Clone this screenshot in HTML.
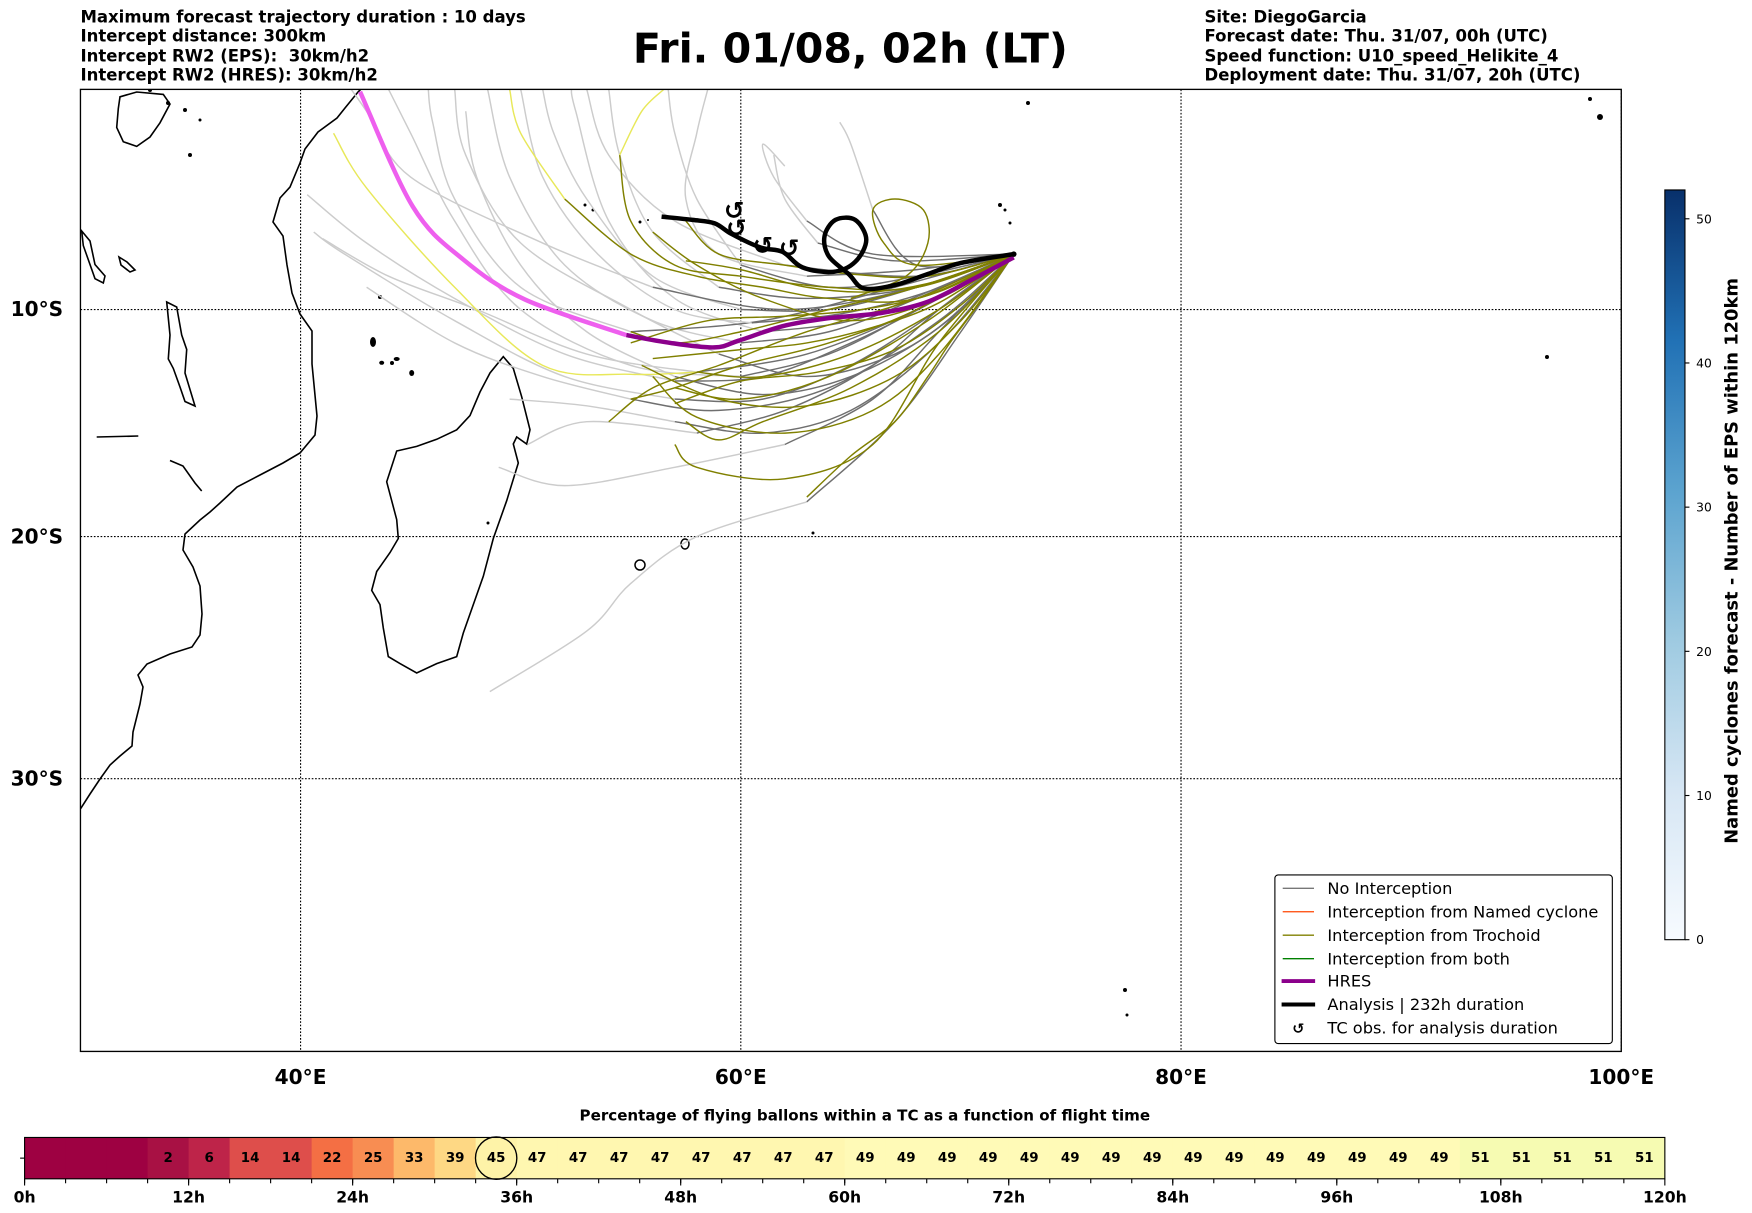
<!DOCTYPE html>
<html><head><meta charset="utf-8">
<style>
html,body{margin:0;padding:0;background:#fff;}
svg{display:block;font-family:"DejaVu Sans","Liberation Sans",sans-serif;}
</style></head>
<body>
<svg id="chart" width="1752" height="1213" viewBox="0 0 1568 1085.6" xmlns="http://www.w3.org/2000/svg">
<defs>
<linearGradient id="cbgrad" x1="0" y1="1" x2="0" y2="0">
<stop offset="0" stop-color="#f7fbff"/><stop offset="0.2" stop-color="#d6e6f4"/><stop offset="0.4" stop-color="#9ecae1"/><stop offset="0.6" stop-color="#5ba3cf"/><stop offset="0.8" stop-color="#2171b5"/><stop offset="1" stop-color="#08306b"/>
</linearGradient>
<clipPath id="mapclip"><rect x="72" y="80" width="1379" height="861"/></clipPath>
</defs>

<g font-size="14.8" font-weight="bold">
<text x="72" y="20">Maximum forecast trajectory duration : 10 days</text>
<text x="72" y="37">Intercept distance: 300km</text>
<text x="72" y="55" xml:space="preserve">Intercept RW2 (EPS):  30km/h2</text>
<text x="72" y="72">Intercept RW2 (HRES): 30km/h2</text>
</g>
<text x="761" y="56" text-anchor="middle" font-size="36.8" font-weight="bold">Fri. 01/08, 02h (LT)</text>
<g font-size="14.8" font-weight="bold">
<text x="1078" y="20">Site: DiegoGarcia</text>
<text x="1078" y="37">Forecast date: Thu. 31/07, 00h (UTC)</text>
<text x="1078" y="55">Speed function: U10_speed_Helikite_4</text>
<text x="1078" y="72">Deployment date: Thu. 31/07, 20h (UTC)</text>
</g>

<g id="map" clip-path="url(#mapclip)">
<g id="coast" transform="scale(0.89497)" fill="none" stroke="#000" stroke-width="1.6">
<polyline points="362,88 358,92 345,108 337,118 318,132 305,149 300,163 290,187 280,198 273,222 283,236 287,265 292,293 300,314 312,331 312,364 317,416 315,435 300,453 283,463 260,475 237,487 220,503 210,512 200,520 185,534 183,550 193,567 200,586 202,614 200,635 192,647 170,654 147,664 138,675 143,687 140,704 133,732 132,746 120,756 110,765 100,779 90,794 81,808 78,812"/>
<polygon points="503.3,356.6 513.3,368.4 521.7,396.8 530,429.8 526.7,444 516.7,437 513.3,444 518.3,463 506.7,500.7 493.3,538.5 483.3,576.3 473.3,604.6 463.3,633 456.7,656.6 436.7,663.6 416.7,673 400,663.6 388.3,656.6 383.3,628 380,604.6 371.7,590.4 376.7,571.5 390,552.6 398.3,538.5 396.7,519.6 391.7,500.7 386.7,481.8 396.7,451 416.7,446.4 436.7,439.3 456.7,429.8 470,415.6 480,392 490,373"/>
<polygon points="166.7,302 176.7,307 181.7,335 186.7,349.5 185,373 195,406 185,401.5 180,387 173.3,368.4 168.3,359 170,335"/>
<polygon points="81.7,231 90,241 95,264.5 105,276 103.3,283 95,278.7 90,264.5 83.3,245.6"/>
<polygon points="120,96.8 136.7,92 163.3,94.4 170,104 160,122.8 150,137 136.7,146.4 123.3,141.7 116.7,127.5 118.3,108.6"/>
<polyline points="96.7,437 138.3,436"/>
<polyline points="170,460.5 183,466 195,483 201.7,491"/>
<polygon points="119,257 127,262 135,270 130,272 121,265"/>
<g fill="#000" stroke="none">
<ellipse cx="373" cy="342" rx="3" ry="5"/><ellipse cx="381.7" cy="362.8" rx="2.5" ry="2"/><ellipse cx="396.7" cy="359" rx="3" ry="2"/><ellipse cx="411.7" cy="373" rx="2.5" ry="3"/>
<ellipse cx="640" cy="565" rx="5" ry="5" fill="none" stroke="#000" stroke-width="1.5"/><ellipse cx="685" cy="544" rx="4" ry="5" fill="none" stroke="#000" stroke-width="1.5"/>
<circle cx="813" cy="533" r="1.5"/><circle cx="1547" cy="357" r="2"/><circle cx="1000" cy="205" r="2"/><circle cx="1005" cy="210" r="1.5"/><circle cx="1010" cy="223" r="1.5"/>
<circle cx="1028" cy="103" r="2"/><circle cx="1590" cy="99" r="2"/><circle cx="1600" cy="117" r="3"/><circle cx="585" cy="205" r="1.5"/><circle cx="593" cy="210" r="1.5"/>
<circle cx="380" cy="297" r="2"/><circle cx="392" cy="363" r="2"/><circle cx="1125" cy="990" r="2"/><circle cx="1127" cy="1015" r="1.5"/>
<circle cx="640" cy="222" r="1.5"/><circle cx="648" cy="220" r="1"/><circle cx="488" cy="523" r="1.5"/>
<circle cx="150" cy="90" r="2"/><circle cx="168" cy="103" r="2"/><circle cx="185" cy="110" r="2"/><circle cx="200" cy="120" r="1.5"/><circle cx="190" cy="155" r="2"/>
</g>
</g>
<g id="grid" stroke="#000" stroke-width="1" stroke-dasharray="1.5,1.5"></g>
<g id="tracks" fill="none"></g>
</g>
<rect x="72" y="80" width="1379" height="861" fill="none" stroke="#000" stroke-width="1.2"/>
<g id="axislabels" font-size="18" font-weight="bold"></g>

<g>
<rect x="1141" y="783" width="302" height="151" rx="3" fill="#fff" stroke="#000" stroke-width="1"/>
<g font-size="14.5">
<line x1="1148" y1="795" x2="1176" y2="795" stroke="#777" stroke-width="1.2"/><text x="1188" y="800">No Interception</text>
<line x1="1148" y1="816" x2="1176" y2="816" stroke="#ff4500" stroke-width="1.2"/><text x="1188" y="821">Interception from Named cyclone</text>
<line x1="1148" y1="837" x2="1176" y2="837" stroke="#808000" stroke-width="1.2"/><text x="1188" y="842">Interception from Trochoid</text>
<line x1="1148" y1="858" x2="1176" y2="858" stroke="#008000" stroke-width="1.2"/><text x="1188" y="863">Interception from both</text>
<line x1="1147" y1="878" x2="1177" y2="878" stroke="#8b008b" stroke-width="3.5"/><text x="1188" y="883">HRES</text>
<line x1="1147" y1="899" x2="1177" y2="899" stroke="#000" stroke-width="3.5"/><text x="1188" y="904">Analysis | 232h duration</text>
<text x="1162" y="925" font-size="13" font-weight="bold" text-anchor="middle">↺</text><text x="1188" y="925">TC obs. for analysis duration</text>
</g>
</g>

<g>
<rect x="1490" y="170" width="18" height="671" fill="url(#cbgrad)" stroke="#000" stroke-width="1"/>
<g id="cbticks" font-size="11"></g>
<text transform="translate(1555,502) rotate(-90)" text-anchor="middle" font-size="16" font-weight="bold">Named cyclones forecast - Number of EPS within 120km</text>
</g>

<text x="774" y="1003" text-anchor="middle" font-size="13.5" font-weight="bold">Percentage of flying ballons within a TC as a function of flight time</text>
<g id="timebar"></g>
</svg>

<script>
// ---- time bar data ----
const timeHours = [0,3,6,9,12,15,18,21,24,27,30,33,36,39,42,45,48,51,54,57,60,63,66,69,72,75,78,81,84,87,90,93,96,99,102,105,108,111,114,117];
const timePct = [0,0,0,2,6,14,14,22,25,33,39,45,47,47,47,47,47,47,47,47,49,49,49,49,49,49,49,49,49,49,49,49,49,49,49,51,51,51,51,51];
const timeShowLabel = [0,0,0,1,1,1,1,1,1,1,1,1,1,1,1,1,1,1,1,1,1,1,1,1,1,1,1,1,1,1,1,1,1,1,1,1,1,1,1,1];
const timeTickLabels = ["0h","12h","24h","36h","48h","60h","72h","84h","96h","108h","120h"];
const currentCellIndex = 11;
// ---- colorbar ----
const cbTicks = [0,10,20,30,40,50];
const cbMax = 52;
// ---- map ticks ----
const lonTicks = [40,60,80,100];
const latTicks = [-10,-20,-30];
// ---- HRES ----
const hresLon = [42.7,45.1,47.4,50.2,54.8,56.8,58.8,59.9,61.9,63.9,66.4,68.5,70.5,72.4];
const hresLat = [-0.1,-5.35,-7.75,-9.55,-11.15,-11.5,-11.7,-11.4,-10.75,-10.4,-10.15,-9.65,-8.65,-7.65];
const hresSplit = 4;
// ---- Analysis ----
const anaLon = [56.4,57.8,58.8,59.6,60.9,61.9,62.8,64.2,65.2,65.7,65.2,64.3,63.8,64.0,64.9,65.6,67.0,68.5,70.0,72.4];
const anaLat = [-5.8,-5.95,-6.1,-6.6,-7.2,-7.4,-8.1,-8.3,-7.85,-6.85,-5.95,-5.95,-6.7,-7.6,-8.4,-9.05,-8.9,-8.4,-7.9,-7.5];
const tcObsLon = [59.7,59.8,61.0,62.2];
const tcObsLat = [-5.5,-6.3,-7.1,-7.2];
// ---- ensemble: no interception (grey) ----
const greyTracks = [
 [[72.4,-7.5],[69,-9.5],[65,-11.5],[61,-13],[57,-13.2],[52,-12],[47,-9.5],[43,-7],[40.3,-4.8]],
 [[72.4,-7.5],[69,-10],[65,-12.5],[61,-14],[57,-14],[52,-13],[47,-10.5],[42,-7.5],[40.6,-6.5]],
 [[72.4,-7.5],[68,-10],[64,-12],[60,-13],[55,-12.5],[50,-10],[47,-6],[45,-2],[44,0]],
 [[72.4,-7.5],[68,-9.5],[64,-11],[60,-11.5],[56,-10.5],[52,-8],[49.5,-4],[48.5,0]],
 [[72.4,-7.5],[68,-9],[64,-10],[60,-10],[56,-8.5],[53,-5],[51.5,-2],[51,0]],
 [[72.4,-7.5],[68,-9],[63,-9.5],[59,-9],[56,-6.5],[54.5,-3],[54,0]],
 [[72.4,-7.5],[68,-8.5],[64,-9],[60,-8],[58,-5],[57,-2],[56.7,0]],
 [[72.4,-7.5],[69,-9],[65,-10.5],[61,-11],[57,-9.5],[54,-6],[52.5,-1],[52.3,0]],
 [[72.4,-7.5],[69,-10],[66,-12.5],[62,-14.5],[58,-15.5],[53,-15],[50.3,-16]],
 [[72.4,-7.5],[69,-11],[66,-14],[62,-16],[57,-17],[52,-17.8],[49,-17]],
 [[72.4,-7.5],[70,-11],[67,-15],[63,-18.5],[58,-20],[55,-22],[53,-24],[48.6,-26.5]],
 [[72.4,-7.5],[66,-7.5],[63,-6],[61.5,-4],[61,-2.5],[62,-3.5]],
 [[72.4,-7.5],[68,-8],[66,-5.5],[65,-2.5],[64.5,-1.5]],
 [[72.4,-7.5],[68,-9],[62,-10],[56,-9],[51,-7],[45,-4],[43,-1],[42.3,0]],
 [[72.4,-7.5],[67,-9],[61,-10.5],[55,-11],[50,-9],[47,-5],[46,-1.5],[45.8,0]],
 [[72.4,-7.5],[68,-10],[63,-12],[58,-12.8],[53,-12],[48,-10],[44,-8.5],[41,-6.8]],
 [[72.4,-7.5],[69,-10.5],[64,-13.5],[59,-14.5],[55,-14],[51,-13],[47,-11.5],[43,-9]],
 [[72.4,-7.5],[69,-11.5],[65,-14.5],[61,-15.5],[57,-15],[53,-14.3],[49.5,-14]],
 [[72.4,-7.5],[68,-8.5],[62,-8],[57,-6],[54,-3],[53,0]],
 [[72.4,-7.5],[70,-10],[67,-12],[63,-13],[59,-12],[55,-10],[50,-7],[47.5,-3],[47,0]],
 [[72.4,-7.5],[68,-8.2],[63,-8.5],[59,-7.5],[57.5,-5],[58,-2],[58.5,0]],
 [[72.4,-7.5],[69,-10.8],[65,-13],[61,-13.8],[57,-13],[53,-11],[50,-8],[48,-4],[47.5,-1]],
 [[72.4,-7.5],[68.5,-9.2],[64.5,-10.2],[60.5,-10.6],[57,-10],[53.5,-7.5],[51,-4],[50,0]],
 [[72.4,-7.5],[67,-7.8],[63.5,-7],[62,-5],[61.5,-3]]
];
const greySplit = [4,4,3,3,3,3,3,3,4,3,3,2,2,3,3,3,4,4,2,4,2,4,3,2];
// ---- ensemble: trochoid interception (olive) ----
const oliveTracks = [
 [[72.4,-7.5],[68,-9.5],[64,-9.5],[61,-9],[58,-8.5],[55,-7.5],[52,-5],[50,-2],[49.5,0]],
 [[72.4,-7.5],[69,-10],[65,-12],[61,-13],[58,-12.8],[55,-12.9],[51,-12.5],[47,-9],[43,-4.5],[41.5,-2]],
 [[72.4,-7.5],[71,-9.5],[69.5,-11.5],[68.5,-13],[67,-15],[65,-16.5],[63,-18.3]],
 [[72.4,-7.5],[68,-8],[66.5,-7],[66,-5.5],[67,-5],[68.3,-5.5],[68.5,-7],[67.5,-8.5],[65,-9.5]],
 [[72.4,-7.5],[68,-10],[64,-11.5],[60,-12.5],[57,-13.5],[55,-14]],
 [[72.4,-7.5],[68,-9],[64,-10],[60,-11],[57,-11.5],[55,-11]],
 [[72.4,-7.5],[69,-11],[65,-13.5],[61,-15],[59,-15.8],[57.5,-15]],
 [[72.4,-7.5],[69,-9.5],[65,-10.5],[61,-9.5],[58,-8],[56,-6.5]],
 [[72.4,-7.5],[68,-9.5],[63,-11],[59,-12.5],[56,-13.5],[54,-15]],
 [[72.4,-7.5],[68.5,-10.5],[64,-13],[60,-14],[57,-13.5]],
 [[72.4,-7.5],[68,-9],[64,-9],[60,-8.5],[57,-8],[55,-6],[54.5,-3],[55.5,-1],[56.5,0]],
 [[72.4,-7.5],[69,-12],[66,-14.5],[62,-15.5],[58,-14.8],[56,-13]],
 [[72.4,-7.5],[69,-8.7],[66,-9.2],[63,-9],[60,-8.2],[57.5,-7.8]],
 [[72.4,-7.5],[70,-10.5],[67,-13],[63,-14.3],[59,-14],[55.5,-12.5]],
 [[72.4,-7.5],[69,-9.7],[66,-10.8],[63,-11.5],[60,-11.8],[56,-12.2]],
 [[72.4,-7.5],[69,-11.5],[66,-16],[62,-17.5],[58,-17],[57,-16]],
 [[72.4,-7.5],[69,-9.2],[65.5,-10],[62,-10.3],[58.5,-10.5],[55,-11.5]],
 [[72.4,-7.5],[70,-9.8],[67,-11.8],[63.5,-12.8],[60,-13.2],[57,-14.2]],
 [[72.4,-7.5],[68.5,-8.5],[65,-8.4],[62,-8],[59,-7.5],[57.5,-6]]
];
const oliveSplit = [6,4,7,9,6,6,7,6,6,5,6,6,6,6,6,6,6,6,6];

// projection
function px(lon){ return 72 + (lon-30)*19.7; }
function py(lat){ const r=lat*Math.PI/180; return 80 - 1123*Math.log(Math.tan(Math.PI/4 + r/2)); }
const NS='http://www.w3.org/2000/svg';
function mk(tag, attrs, parent){ const e=document.createElementNS(NS,tag); for(const k in attrs) e.setAttribute(k, attrs[k]); parent.appendChild(e); return e; }
function smoothPath(pts){
  if(pts.length<2) return '';
  let d='M'+pts[0][0].toFixed(1)+','+pts[0][1].toFixed(1);
  for(let i=0;i<pts.length-1;i++){
    const p0=pts[Math.max(0,i-1)], p1=pts[i], p2=pts[i+1], p3=pts[Math.min(pts.length-1,i+2)];
    const c1=[p1[0]+(p2[0]-p0[0])/6, p1[1]+(p2[1]-p0[1])/6];
    const c2=[p2[0]-(p3[0]-p1[0])/6, p2[1]-(p3[1]-p1[1])/6];
    d+=' C'+c1[0].toFixed(1)+','+c1[1].toFixed(1)+' '+c2[0].toFixed(1)+','+c2[1].toFixed(1)+' '+p2[0].toFixed(1)+','+p2[1].toFixed(1);
  }
  return d;
}
function proj(arr){ return arr.map(p=>[px(p[0]),py(p[1])]); }

// grid
const grid=document.getElementById('grid');
lonTicks.forEach(l=>{ const e=mk('line',{x1:px(l),x2:px(l),y1:80,y2:941},grid);

 });
latTicks.forEach(l=>{ const e=mk('line',{x1:72,x2:1451,y1:py(l),y2:py(l)},grid);

 });
const al=document.getElementById('axislabels');
lonTicks.forEach(l=>{ const t=mk('text',{x:px(l),y:970,'text-anchor':'middle'},al); t.textContent=l+'°E';

 });
latTicks.forEach(l=>{ const t=mk('text',{x:33,y:py(l)+6,'text-anchor':'middle'},al); t.textContent=(-l)+'°S';

 });

// tracks
const tg=document.getElementById('tracks');
function drawSplit(track, split, c1, c2, w1, w2, name){
  const pts=proj(track);
  const a=pts.slice(0,split+1), b=pts.slice(split);
  if(b.length>1){ const e=mk('path',{d:smoothPath(b),stroke:c2,'stroke-width':w2},tg);
    
     }
  const e2=mk('path',{d:smoothPath(a),stroke:c1,'stroke-width':w1},tg);
  
  
}
greyTracks.forEach((t,i)=>drawSplit(t,greySplit[i],'#6f6f6f','#cccccc',1.3,1.3,'no-interception-track'));
oliveTracks.forEach((t,i)=>drawSplit(t,oliveSplit[i],'#808000','#e8e85a',1.3,1.3,'trochoid-track'));
// HRES
const hres=hresLon.map((l,i)=>[l,hresLat[i]]);
drawSplit(hres.slice().reverse(), hresLon.length-1-hresSplit, '#8b008b', '#ee5fee', 4, 4, 'hres-track');
// Analysis
const ana=proj(anaLon.map((l,i)=>[l,anaLat[i]]));
const ae=mk('path',{d:smoothPath(ana),stroke:'#000','stroke-width':4,fill:'none'},tg);


tcObsLon.forEach((l,i)=>{ const t=mk('text',{x:px(l),y:py(tcObsLat[i])+8,'text-anchor':'middle','font-size':22,'font-weight':'bold',fill:'#000'},tg); t.textContent='↺';

 });
const dg=mk('circle',{cx:px(72.4),cy:py(-7.5),r:2.5,fill:'#000'},tg);



// colorbar ticks
const cb=document.getElementById('cbticks');
function cbY(v){ return 841 - v/cbMax*671; }
cbTicks.forEach(v=>{ mk('line',{x1:1508,x2:1512,y1:cbY(v),y2:cbY(v),stroke:'#000'},cb);
const t=mk('text',{x:1518,y:cbY(v)+4},cb); t.textContent=v;

 });

// timebar
const stops=[[0,[158,1,66]],[2,[168,17,68]],[6,[190,36,73]],[14,[222,78,75]],[22,[244,111,68]],[25,[248,141,82]],[33,[253,185,106]],[39,[254,216,132]],[45,[254,243,168]],[49,[255,250,183]],[51,[246,251,178]]];
function pctColor(v){
  for(let i=0;i<stops.length-1;i++){ if(v<=stops[i+1][0]){ const a=stops[i],b=stops[i+1],t=(v-a[0])/(b[0]-a[0]);
    return 'rgb('+a[1].map((c,k)=>Math.round(c+(b[1][k]-c)*t)).join(',')+')'; } }
  return 'rgb('+stops[stops.length-1][1].join(',')+')';
}
const tb=document.getElementById('timebar');
const bx0=22, bx1=1490, by0=1018, by1=1055;
function tx(h){ return bx0 + h/120*(bx1-bx0); }
timeHours.forEach((h,i)=>{
  const c=mk('rect',{x:tx(h),y:by0,width:tx(h+3)-tx(h)+0.5,height:by1-by0,fill:pctColor(timePct[i])},tb);
  
  
  if(timeShowLabel[i]){ const t=mk('text',{x:(tx(h)+tx(h+3))/2,y:1040,'text-anchor':'middle','font-size':12,'font-weight':'bold'},tb); t.textContent=timePct[i];
    
     }
  mk('line',{x1:tx(h),x2:tx(h),y1:by1,y2:by1+4,stroke:'#000'},tb);
});
mk('rect',{x:bx0,y:by0,width:bx1-bx0,height:by1-by0,fill:'none',stroke:'#000','stroke-width':1},tb);
mk('line',{x1:18,x2:22,y1:(by0+by1)/2,y2:(by0+by1)/2,stroke:'#000'},tb);
const cc=timeHours[currentCellIndex];
const circ=mk('ellipse',{cx:(tx(cc)+tx(cc+3))/2,cy:(by0+by1)/2,rx:18.5,ry:19,fill:'none',stroke:'#000','stroke-width':1.2},tb);


timeTickLabels.forEach((s,i)=>{ const h=i*12; mk('line',{x1:tx(h),x2:tx(h),y1:by1,y2:by1+6,stroke:'#000'},tb);
const t=mk('text',{x:tx(h),y:1076,'text-anchor':'middle','font-size':14,'font-weight':'bold'},tb); t.textContent=s;

 });
</script>
</body></html>
